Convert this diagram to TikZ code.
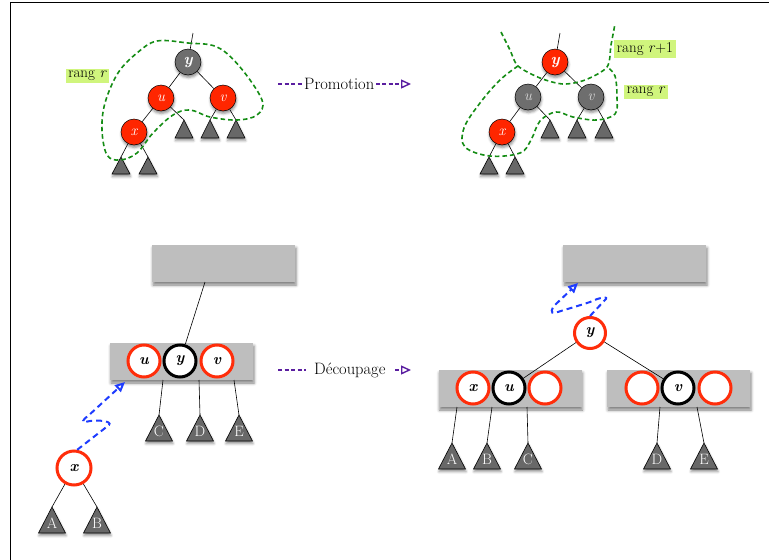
\documentclass[tikz,border=0pt]{standalone}
\usetikzlibrary{arrows.meta,shadows.blur}
\definecolor{rd}{RGB}{255,38,0}
\definecolor{cred}{RGB}{255,45,10}
\definecolor{nodegray}{RGB}{110,110,110}
\definecolor{trigray}{RGB}{104,104,104}
\definecolor{rectgray}{RGB}{190,190,190}
\definecolor{grn}{RGB}{20,140,20}
\definecolor{lgreen}{RGB}{208,245,125}
\definecolor{purp}{RGB}{90,30,160}
\definecolor{blu}{RGB}{30,60,255}
\newcommand\mytri[5]{%
  \coordinate (#1) at (#2,#3);
  \path[tristyle] (#2,#3) -- (#2+#4/2,#3+#5) -- (#2-#4/2,#3+#5) -- cycle;}
\newcommand\mytril[6]{%
  \coordinate (#1) at (#2,#3);
  \path[tristyle] (#2,#3) -- (#2+#4/2,#3+#5) -- (#2-#4/2,#3+#5) -- cycle;
  \node[tritext] (#1-t) at (#2,#3+#5*0.64) {#6};}
\begin{document}
\begin{tikzpicture}[x=1pt,y=-1pt,
  shd/.style={blur shadow={shadow xshift=0.5pt,shadow yshift=-2.5pt,shadow opacity=45,shadow blur radius=2.5pt}},
  tnode/.style={circle,draw=black,line width=0.5pt,minimum size=26pt,inner sep=0pt,shd,
    font=\fontsize{15}{15}\selectfont\itshape},
  redn/.style={tnode,fill=rd,text=white},
  grayn/.style={tnode,fill=nodegray,text=white},
  bcirc/.style={circle,draw=cred,line width=3pt,fill=white,minimum size=32pt,inner sep=0pt,
    font=\fontsize{15.5}{15.5}\selectfont\bfseries\itshape},
  kcirc/.style={bcirc,draw=black},
  grect/.style={fill=rectgray,minimum width=143pt,minimum height=37pt,inner sep=0pt,
    blur shadow={shadow xshift=1pt,shadow yshift=-3pt,shadow opacity=50,shadow blur radius=3pt}},
  edge/.style={draw=black,line width=0.6pt},
  tristyle/.style={fill=trigray,draw=black,line width=0.6pt,shd},
  tritext/.style={text=white,inner sep=0pt,font=\fontsize{15}{15}\selectfont},
  contour/.style={draw=grn,line width=1.6pt,dash pattern=on 4.5pt off 3pt},
  lbl/.style={fill=lgreen,inner sep=2.5pt,font=\fontsize{15}{15}\selectfont},
  purpa/.style={draw=purp,line width=1.4pt,dash pattern=on 4pt off 2.5pt,
    -{Triangle[open,length=10pt,width=9pt,line width=1.4pt]}},
  bluea/.style={draw=blu,line width=2pt,dash pattern=on 6pt off 4pt,
    -{Triangle[open,length=10pt,width=9pt,line width=2pt]}},
  ptext/.style={fill=white,text=black,inner ysep=2pt,inner xsep=1.5pt,font=\fontsize{16.5}{16.5}\selectfont}
]
\useasboundingbox (0,0) rectangle (769,560);
\draw[line width=1pt] (10,560) -- (10,2) -- (769,2);

% ---------- top-left tree ----------
\node[grayn,font=\fontsize{16}{16}\selectfont\bfseries\itshape] (y1) at (188,62) {y};
\coordinate (y1top) at (193,33);
\node[redn] (u1) at (161,98) {u};
\node[redn] (v1) at (223,98) {v};
\node[redn] (x1) at (134,132) {x};
\mytri{t1a}{121}{157}{18}{17}
\mytri{t1b}{148}{157}{18}{17}
\mytri{t1c}{184}{120}{18}{18}
\mytri{t1d}{210}{120}{18}{18}
\mytri{t1e}{236}{120}{18}{18}
\draw[edge] (y1) -- (y1top);
\draw[edge] (y1) -- (u1);
\draw[edge] (y1) -- (v1);
\draw[edge] (u1) -- (x1);
\draw[edge] (u1) -- (t1c);
\draw[edge] (v1) -- (t1d);
\draw[edge] (v1) -- (t1e);
\draw[edge] (x1) -- (t1a);
\draw[edge] (x1) -- (t1b);
\draw[contour] plot[smooth cycle,tension=0.6] coordinates {(157,41) (188,43) (217,47) (240,67) (262,100) (257,115) (237,120) (210,117) (190,110) (173,115) (153,133) (137,153) (120,160) (107,155) (102,130) (105,103) (118,73) (137,53)};
\node[lbl] (l1) at (87.5,76) {rang \textit{r}};

% ---------- promotion ----------
\coordinate (p1) at (278,84);
\coordinate (p2) at (411,84);
\draw[purpa] (p1) -- (p2) node[ptext,pos=0.46] (pt) {Promotion};

% ---------- top-right tree ----------
\node[redn,font=\fontsize{16}{16}\selectfont\bfseries\itshape] (y2) at (555,62) {y};
\coordinate (y2top) at (560,33);
\node[grayn,text=black!15] (u2) at (528,97) {u};
\node[grayn,text=black!15] (v2) at (591,97) {v};
\node[redn] (x2) at (502,132) {x};
\mytri{t2a}{489}{157}{18}{17}
\mytri{t2b}{515}{157}{18}{17}
\mytri{t2c}{550}{120}{18}{18}
\mytri{t2d}{577}{120}{18}{18}
\mytri{t2e}{604}{120}{18}{18}
\draw[edge] (y2) -- (y2top);
\draw[edge] (y2) -- (u2);
\draw[edge] (y2) -- (v2);
\draw[edge] (u2) -- (x2);
\draw[edge] (u2) -- (t2c);
\draw[edge] (v2) -- (t2d);
\draw[edge] (v2) -- (t2e);
\draw[edge] (x2) -- (t2a);
\draw[edge] (x2) -- (t2b);
\draw[contour] plot[smooth,tension=0.5] coordinates {(501,32) (510,50) (518,66) (540,78) (563,84) (585,80) (607,67) (611,45) (615,24)};
\draw[contour] plot[smooth,tension=0.6] coordinates {(518,66) (500,80) (480,103) (464,128) (465,147) (490,156) (520,153) (531,140) (540,121) (556,112) (573,117) (597,120) (615,114) (617,98) (615,76) (607,67)};
\node[lbl] (l2) at (645,49) {rang \textit{r}+1};
\node[lbl] (l3) at (646,92) {rang \textit{r}};

% ---------- bottom-left ----------
\node[grect] (ra) at (223.5,263.5) {};
\node[grect] (rb) at (181.5,361.5) {};
\node[bcirc] (bu) at (144,361) {u};
\node[kcirc] (by) at (180,361) {y};
\node[bcirc] (bv) at (217,361) {v};
\coordinate (ra1) at (205,282);
\draw[edge] (ra1) -- (by);
\coordinate (rb1) at (163,380);
\coordinate (rb2) at (199,380);
\coordinate (rb3) at (234,380);
\mytril{tC}{159}{415}{27}{26}{C}
\mytril{tD}{200}{415}{27}{26}{D}
\mytril{tE}{239}{415}{27}{26}{E}
\draw[edge] (rb1) -- (tC);
\draw[edge] (rb2) -- (tD);
\draw[edge] (rb3) -- (tE);
\node[bcirc,minimum size=34pt] (bx) at (74,468) {x};
\mytril{tA}{52}{507}{27}{26}{A}
\mytril{tB}{97}{507}{27}{26}{B}
\draw[edge] (bx) -- (tA);
\draw[edge] (bx) -- (tB);
\coordinate (bt1) at (125,382);
\draw[bluea] (bx.80) -- (109,425) .. controls (113,421) and (96,419) .. (85,422) .. controls (82,423) and (82,420) .. (88,416) -- (bt1);

% ---------- decoupage ----------
\coordinate (d1) at (278,370);
\coordinate (d2) at (411,370);
\draw[purpa] (d1) -- (d2) node[ptext,pos=0.54,minimum width=88pt] (dt) {Découpage};

% ---------- bottom-right ----------
\node[grect] (rc) at (634.5,263.5) {};
\node[bcirc,minimum size=31pt] (ry) at (590,333) {y};
\node[grect] (rl) at (510,388.5) {};
\node[grect] (rr) at (678.5,388.5) {};
\node[bcirc] (lx) at (473,388) {x};
\node[kcirc] (lu) at (509,388) {u};
\node[bcirc] (le) at (545,388) {};
\node[bcirc] (re1) at (642,388) {};
\node[kcirc] (rv) at (678,388) {v};
\node[bcirc] (re2) at (715,388) {};
\draw[edge] (ry) -- (lu);
\draw[edge] (ry) -- (rv);
\coordinate (rl1) at (457,407);
\coordinate (rl2) at (492,407);
\coordinate (rl3) at (527,407);
\coordinate (rr1) at (660,407);
\coordinate (rr2) at (697,407);
\mytril{tA2}{452}{443}{27}{26}{A}
\mytril{tB2}{487}{443}{27}{26}{B}
\mytril{tC2}{528}{443}{27}{26}{C}
\mytril{tD2}{657}{443}{27}{26}{D}
\mytril{tE2}{704}{443}{27}{26}{E}
\draw[edge] (rl1) -- (tA2);
\draw[edge] (rl2) -- (tB2);
\draw[edge] (rl3) -- (tC2);
\draw[edge] (rr1) -- (tD2);
\draw[edge] (rr2) -- (tE2);
\coordinate (bt2) at (578,283);
\draw[bluea] (ry.north) -- (605,300) .. controls (610,296) and (600,297) .. (590,302) .. controls (575,307) and (560,311) .. (555,313) .. controls (550,314) and (551,308) .. (556,304) -- (bt2);
\end{tikzpicture}
\end{document}
